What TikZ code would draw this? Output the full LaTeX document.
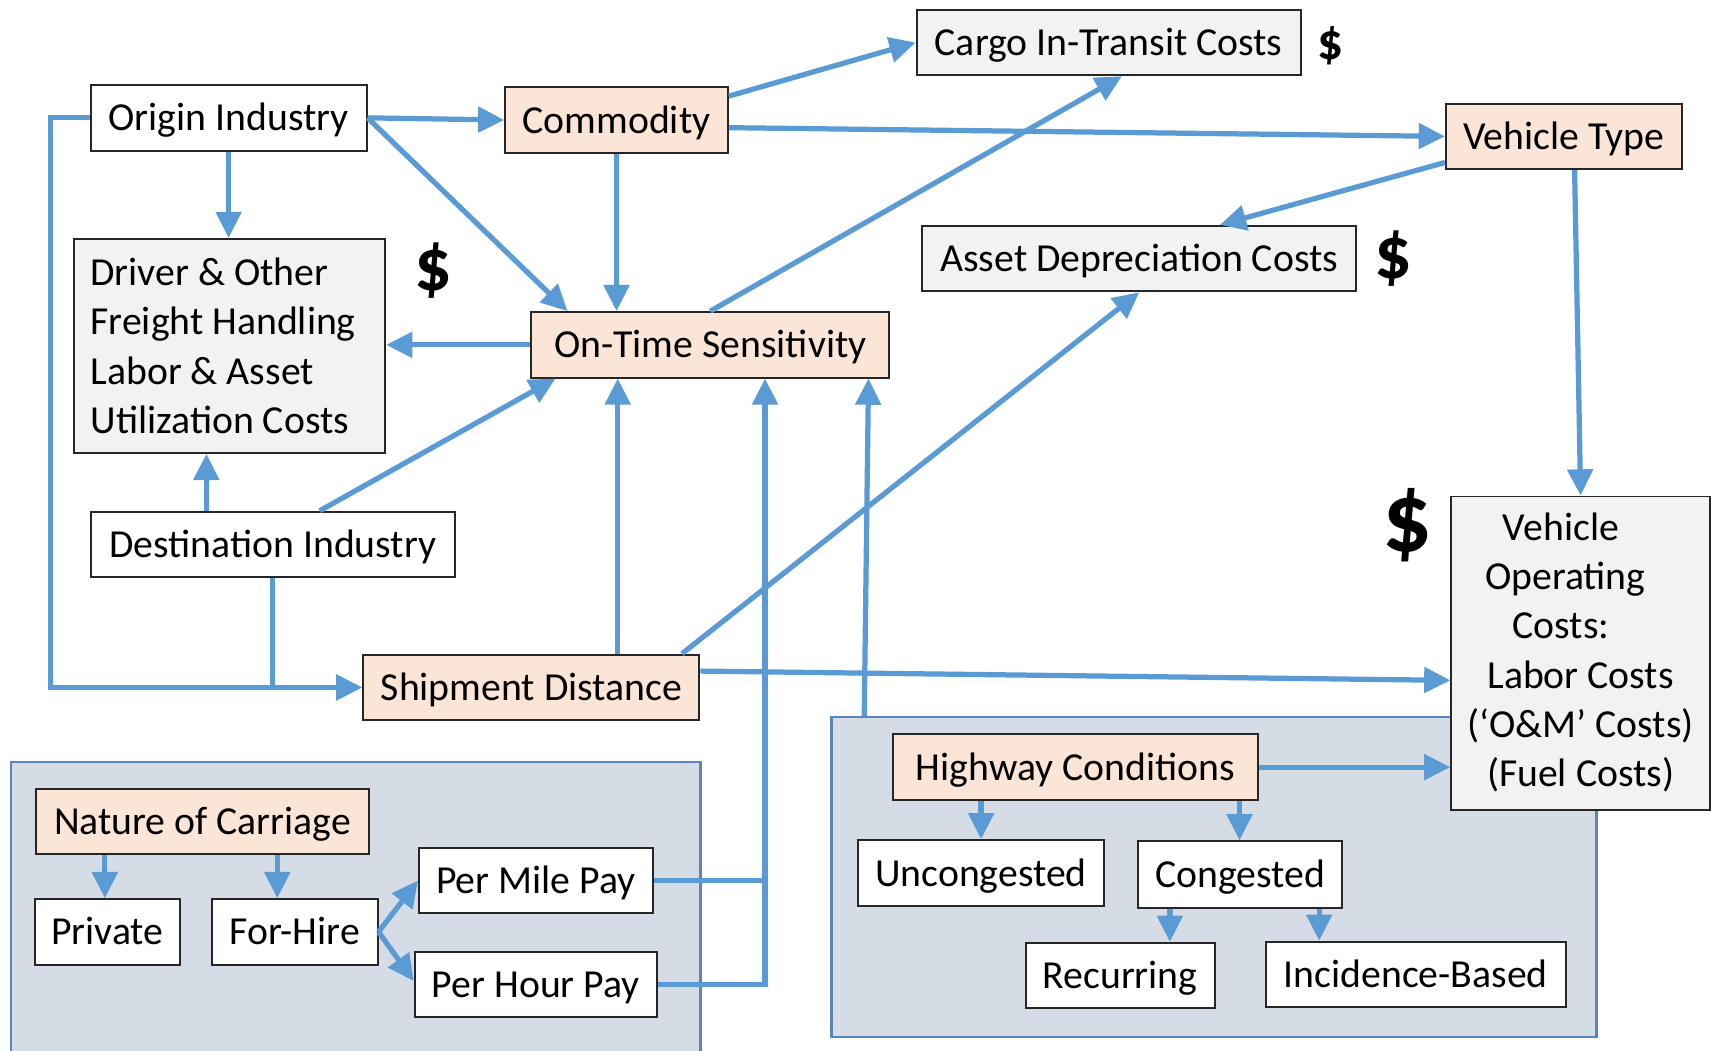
\documentclass[tikz,border=0pt]{standalone}
\usepackage{fontspec}
\setmainfont{Carlito}
\usetikzlibrary{arrows.meta,calc}

\definecolor{linkblue}{HTML}{5B9BD5}
\definecolor{peach}{HTML}{FBE5D6}
\definecolor{costgray}{HTML}{F2F2F2}
\definecolor{panelfill}{HTML}{D6DCE5}
\definecolor{panelline}{HTML}{5A84BC}
\definecolor{boxline}{HTML}{262626}

\newcommand\lbl{\fontsize{18.2pt}{22.6pt}\selectfont}

% \placebox{name}{x1}{y1}{x2}{y2}{style}{text}: a node filling the given corners
\newcommand\placebox[7]{%
  \pgfmathsetmacro\bxcx{(#2+#4)/2}%
  \pgfmathsetmacro\bxcy{(#3+#5)/2}%
  \pgfmathsetmacro\bxw{(#4-#2)*0.5}%
  \pgfmathsetmacro\bxh{(#5-#3)*0.5}%
  \node[#6, minimum width=\bxw pt, minimum height=\bxh pt] (#1) at (\bxcx,\bxcy) {#7};}

% a centred line nudged to the left by half of #1
\newcommand\nudgeline[2]{\mbox{#2\hspace{#1}}}

\tikzset{
  box/.style={draw=boxline, line width=0.9pt, inner sep=0pt, font=\lbl},
  oneline/.style={text height=14pt, text depth=2pt},
  plain/.style={box, oneline, fill=white},
  factor/.style={box, oneline, fill=peach},
  cost/.style={box, oneline, fill=costgray},
  costblock/.style={box, fill=costgray},
  panel/.style={draw=panelline, line width=1pt, fill=panelfill, inner sep=0pt},
  wire/.style={draw=linkblue, line width=2.4pt},
  link/.style={wire, -{Triangle[length=12pt,width=11.5pt]}},
  usd/.style={font=\bfseries\fontsize{#1}{#1}\selectfont, inner sep=0pt},
}

\begin{document}
\begin{tikzpicture}[x=0.5pt, y=-0.5pt]
\useasboundingbox (0,0) rectangle (1568,963);
\clip (0,0) rectangle (1568,963);

% grouping panels
\placebox{lpanel}{10}{698}{642}{980}{panel}{}
\placebox{rpanel}{762}{657}{1463}{950}{panel}{}

% upper network
\placebox{orig}{83}{78}{336}{138}{plain}{Origin Industry}
\placebox{comm}{463}{80}{667}{140}{factor}{Commodity}
\placebox{cargo}{840}{9}{1192}{69}{cost}{Cargo In-Transit Costs}
\placebox{vtype}{1325}{95}{1541}{155}{factor}{Vehicle Type}
\placebox{asset}{845}{207}{1243}{267}{cost}{Asset Depreciation Costs}
\placebox{driver}{68}{219}{353}{415}{costblock, text width=127.5pt, align=flush left, inner xsep=7.5pt}{Driver \& Other\\Freight Handling\\Labor \& Asset\\Utilization Costs}
\placebox{ots}{487}{286}{815}{346}{factor}{On-Time Sensitivity}
\placebox{dest}{83}{469}{417}{529}{plain}{Destination Industry}
\placebox{ship}{333}{600}{641}{660}{factor}{Shipment Distance}

% carriage panel
\placebox{nature}{33}{723}{338}{783}{factor}{Nature of Carriage}
\placebox{priv}{32}{824}{165}{884}{plain}{Private}
\placebox{hire}{194}{824}{346}{884}{plain}{For-Hire}
\placebox{mile}{384}{777}{598}{837}{plain}{Per Mile Pay}
\placebox{hour}{380}{872}{602}{932}{plain}{Per Hour Pay}

% highway panel
\placebox{hwy}{818}{673}{1153}{733}{factor}{Highway Conditions}
\placebox{uncong}{786}{770}{1012}{830}{plain}{Uncongested}
\placebox{cong}{1043}{771}{1230}{832}{plain}{Congested}
\placebox{recur}{940}{864}{1113}{924}{plain}{Recurring}
\placebox{incid}{1160}{863}{1435}{923}{plain}{Incidence-Based}

\placebox{voc}{1330}{455}{1567}{742}{costblock, align=center, text depth=3pt}{\nudgeline{18pt}{Vehicle}\\\nudgeline{14pt}{Operating}\\\nudgeline{18pt}{Costs:}\\Labor Costs\\(‘O\&M’ Costs)\\(Fuel Costs)}

% cost markers
\node[usd=23.5pt] (usdcargo) at (1219,42) {\$};
\node[usd=34pt] (usdasset) at (1277,237) {\$};
\node[usd=34pt] (usddriver) at (397,248) {\$};
\node[usd=45pt] (usdvoc) at (1290,481) {\$};

% helper points on node borders
\coordinate (dd) at ($(dest.north west)+(107,0)$);
\coordinate (sd) at ($(ship.north west)+(234,0)$);
\coordinate (payup) at ($(ots.south west)+(215,0)$);
\coordinate (hu) at ($(hwy.south west)+(82,0)$);
\coordinate (hc) at ($(hwy.south east)+(-18,0)$);
\coordinate (cr) at ($(cong.south west)+(30,0)$);
\coordinate (ci) at ($(cong.south east)+(-22,0)$);
\coordinate (np) at ($(nature.south west)+(64,0)$);
\coordinate (nh) at ($(nature.south west)+(222,0)$);

% connectors
\draw[link] (orig.east) -- (comm.west);
\draw[link] (orig.south) -- (orig.south |- driver.north);
\draw[link] (orig.east) -- ($(ots.north west)+(34,0)$);
\draw[link] (orig.west) -- ++(-36,0) |- (ship.west);
\draw[wire] (dest.south) -- (dest.south |- ship.west);

\draw[link] ($(comm.north east)+(0,9)$) -- (cargo.west);
\draw[link] ($(comm.east)+(0,7)$) -- (vtype.west);
\draw[link] (comm.south) -- (comm.south |- ots.north);

\draw[link] (ots.north) -- ($(cargo.south)+(12,0)$);
\draw[link] (ots.west) -- (ots.west -| driver.east);

\draw[link] ($(dest.north)+(43,0)$) -- ($(ots.south west)+(23,0)$);
\draw[link] (dd) -- (dd |- driver.south);

\draw[link] (sd) -- (sd |- ots.south);
\draw[link] ($(ship.north east)+(-17,0)$) -- (asset.south);
\draw[link] ($(ship.east)+(0,-15)$) -- ($(voc.west)+(0,25)$);

\draw[link] ($(vtype.south west)+(0,-7)$) -- ($(asset.north)+(74,0)$);
\draw[link] ($(vtype.south)+(10,0)$) -- (voc.north);

\draw[link] (hour.east) -| (payup);
\draw[wire] (mile.east) -- (mile.east -| payup);
\draw[link] (hire.east) -- (mile.west);
\draw[link] (hire.east) -- ($(hour.west)+(0,-3)$);
\draw[link] (np) -- (np |- priv.north);
\draw[link] (nh) -- (nh |- hire.north);

\draw[link] ($(rpanel.north west)+(31,0)$) -- ($(ots.south east)+(-20,0)$);
\draw[link] (hwy.east) -- (hwy.east -| voc.west);
\draw[link] (hu) -- (hu |- uncong.north);
\draw[link] (hc) -- (hc |- cong.north);
\draw[link] (cr) -- (cr |- recur.north);
\draw[link] (ci) -- (ci |- incid.north);
\end{tikzpicture}
\end{document}
